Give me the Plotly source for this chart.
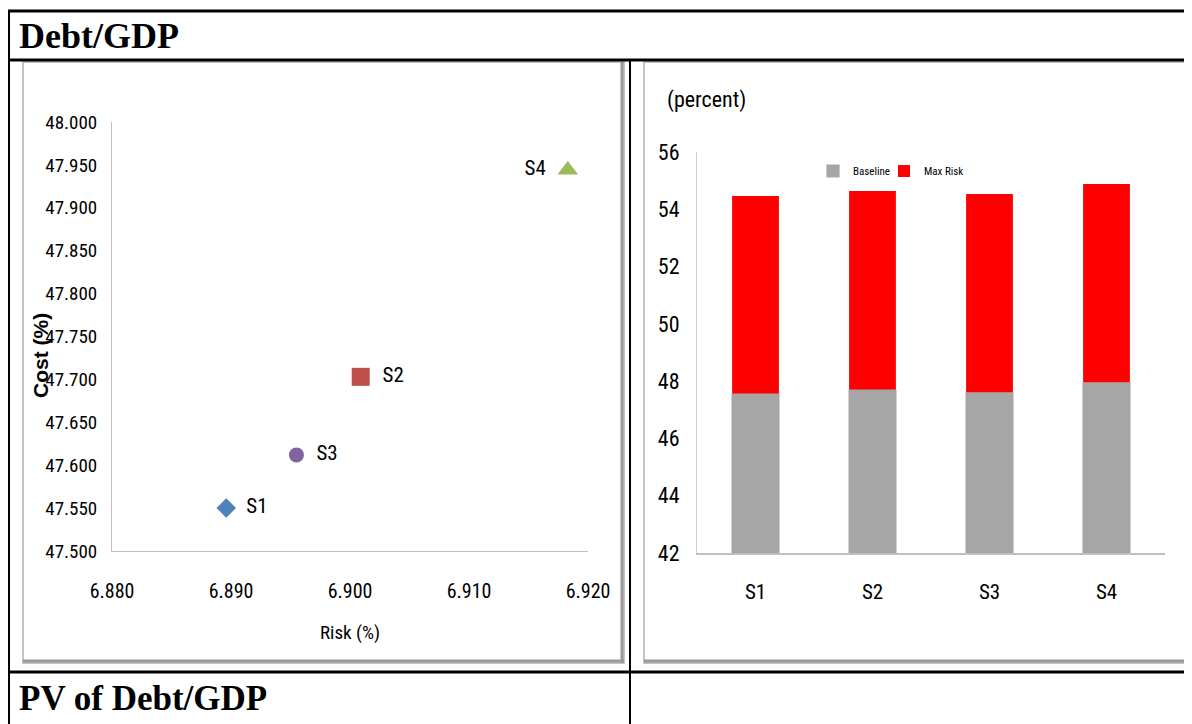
import plotly.graph_objects as go

# ---- data ----
strategies = ["S1", "S2", "S3", "S4"]
risk = [6.8896, 6.9009, 6.8955, 6.9183]
cost = [47.550, 47.703, 47.612, 47.944]
baseline = [47.55, 47.69, 47.59, 47.94]
max_risk_total = [54.46, 54.64, 54.53, 54.88]
scatter_colors = ["#4F81BD", "#C0504D", "#8064A2", "#9BBB59"]
scatter_symbols = ["diamond", "square", "circle", "triangle-up"]
scatter_sizes = [15, 18, 15, 18]
label_pos = ["middle right", "middle right", "middle right", "middle left"]
y1_ticks = [47.5, 47.55, 47.6, 47.65, 47.7, 47.75, 47.8, 47.85, 47.9, 47.95, 48.0]
x1_ticks = [6.88, 6.89, 6.90, 6.91, 6.92]
y2_ticks = [42, 44, 46, 48, 50, 52, 54, 56]

# the page body adds an 8px offset; figure is sized to fill the rest of the window
OFF = 8
W, H = 1192 - OFF, 724 - OFF
NARROW = "Liberation Sans Narrow, Roboto Condensed, Arial Narrow, Roboto, sans-serif"
SERIF = "Liberation Serif, Times New Roman, serif"

def px(x):
    return (x - OFF) / W

def py(y):
    return 1 - (y - OFF) / H

fig = go.Figure()

for i, s in enumerate(strategies):
    fig.add_trace(go.Scatter(
        x=[risk[i]], y=[cost[i]], mode="markers+text", text=["  " + s + "  "],
        textposition=label_pos[i],
        textfont=dict(family=NARROW, size=21, color="#000000"),
        marker=dict(symbol=scatter_symbols[i], size=scatter_sizes[i], color=scatter_colors[i]),
        showlegend=False, xaxis="x", yaxis="y", cliponaxis=False,
    ))

fig.add_trace(go.Bar(
    x=strategies, y=max_risk_total, name="Max Risk", marker_color="#FF0000",
    marker_line_width=0, xaxis="x2", yaxis="y2", legend="legend2",
))
fig.add_trace(go.Bar(
    x=strategies, y=baseline, name="Baseline", marker_color="#A6A6A6",
    marker_line=dict(color="#A6A6A6", width=1.2), xaxis="x2", yaxis="y2", legend="legend",
))

legend_font = dict(family=NARROW, size=11, color="#000000")

fig.update_layout(
    template="none",
    width=W, height=H,
    margin=dict(l=0, r=0, t=0, b=0, pad=0, autoexpand=False),
    paper_bgcolor="white", plot_bgcolor="white",
    barmode="overlay", bargap=0.6,
    xaxis=dict(domain=[px(112), px(588)], range=[6.88, 6.92], tickvals=x1_ticks,
               tickformat=".3f", showgrid=False, zeroline=False, showline=True,
               linecolor="#BFBFBF", linewidth=1, ticks="", ticklabelstandoff=22,
               tickfont=dict(family=NARROW, size=20, color="#000000"), anchor="y",
               automargin=False),
    yaxis=dict(domain=[py(551), py(122)], range=[47.5, 48.0], tickvals=y1_ticks,
               tickformat=".3f", showgrid=False, zeroline=False, showline=True,
               linecolor="#BFBFBF", linewidth=1, ticks="", ticklabelstandoff=10,
               tickfont=dict(family=NARROW, size=19, color="#000000"), anchor="x",
               automargin=False),
    xaxis2=dict(domain=[px(697), px(1165)], showgrid=False, zeroline=False, showline=True,
                linecolor="#BFBFBF", linewidth=1.5, ticks="", ticklabelstandoff=19,
                tickfont=dict(family=NARROW, size=21, color="#000000"), anchor="y2",
                automargin=False),
    yaxis2=dict(domain=[py(553), py(152)], range=[42, 56], tickvals=y2_ticks,
                showgrid=False, zeroline=False, showline=True, linecolor="#D0D0D0",
                linewidth=1, ticks="", ticklabelstandoff=12,
                tickfont=dict(family=NARROW, size=22, color="#000000"), anchor="x2",
                automargin=False),
    legend=dict(orientation="h", x=px(813), y=py(171), xanchor="left", yanchor="middle",
                font=legend_font, itemwidth=30, bgcolor="rgba(0,0,0,0)"),
    legend2=dict(orientation="h", x=px(884), y=py(171), xanchor="left", yanchor="middle",
                 font=legend_font, itemwidth=30, bgcolor="rgba(0,0,0,0)"),
    showlegend=True,
)

shapes = []
# chart frames
for x0, x1 in [(23, 624), (644, 1200)]:
    shapes.append(dict(type="rect", xref="paper", yref="paper", x0=px(x0), x1=px(x1),
                       y0=py(663), y1=py(62), line=dict(color="#B0B0B0", width=1.5),
                       layer="below"))
    shapes.append(dict(type="line", xref="paper", yref="paper", x0=px(x0), x1=px(x1),
                       y0=py(661), y1=py(661), line=dict(color="#9A9A9A", width=3),
                       layer="below"))
shapes.append(dict(type="line", xref="paper", yref="paper", x0=px(622), x1=px(622),
                   y0=py(62), y1=py(663), line=dict(color="#9A9A9A", width=3), layer="below"))
# table lines
table = [
    (8, 11, 1200, 11, 3),
    (8, 60, 1200, 60, 3),
    (8, 672, 1200, 672, 3),
    (9, 11, 9, 730, 2),
    (630, 60, 630, 730, 2),
]
for x0, y0, x1, y1, w in table:
    shapes.append(dict(type="line", xref="paper", yref="paper", x0=px(x0), y0=py(y0),
                       x1=px(x1), y1=py(y1), line=dict(color="#000000", width=w)))
fig.update_layout(shapes=shapes)

annotations = [
    dict(text="<b>Debt/GDP</b>", x=px(17), y=py(36), xanchor="left", yanchor="middle",
         font=dict(family=SERIF, size=36, color="#000000")),
    dict(text="<b>PV of Debt/GDP</b>", x=px(17), y=py(698), xanchor="left", yanchor="middle",
         font=dict(family=SERIF, size=35, color="#000000")),
    dict(text="<b>Cost (%)</b>", x=px(40), y=py(356), xanchor="center", yanchor="middle",
         textangle=-90, font=dict(family="Liberation Sans, Arial, sans-serif", size=21,
                                  color="#000000")),
    dict(text="Risk (%)", x=px(350), y=py(632), xanchor="center", yanchor="middle",
         font=dict(family=NARROW, size=19, color="#000000")),
    dict(text="(percent)", x=px(665), y=py(100), xanchor="left", yanchor="middle",
         font=dict(family=NARROW, size=22, color="#000000")),
]
for a in annotations:
    a.update(xref="paper", yref="paper", showarrow=False)
fig.update_layout(annotations=annotations)

fig.write_html("out.html")
